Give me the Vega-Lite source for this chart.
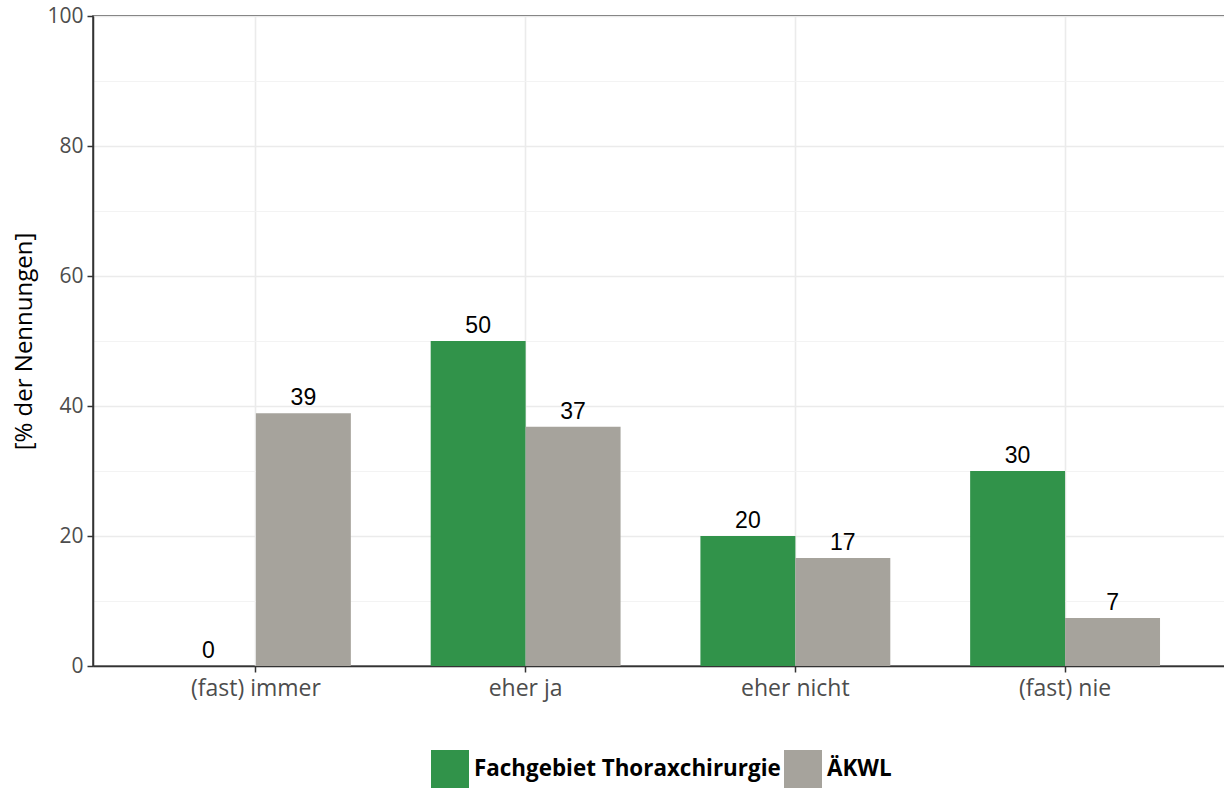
{
  "$schema": "https://vega.github.io/schema/vega-lite/v6.json",
  "width": 1135,
  "height": 650,
  "autosize": {"type": "none"},
  "padding": {"left": 93, "top": 16, "right": 0, "bottom": 123},
  "background": "white",
  "data": {
    "values": [
      {"kat": "(fast) immer", "gruppe": "Fachgebiet Thoraxchirurgie", "wert": 0},
      {"kat": "(fast) immer", "gruppe": "ÄKWL", "wert": 38.9},
      {"kat": "eher ja", "gruppe": "Fachgebiet Thoraxchirurgie", "wert": 50},
      {"kat": "eher ja", "gruppe": "ÄKWL", "wert": 36.8},
      {"kat": "eher nicht", "gruppe": "Fachgebiet Thoraxchirurgie", "wert": 20},
      {"kat": "eher nicht", "gruppe": "ÄKWL", "wert": 16.6},
      {"kat": "(fast) nie", "gruppe": "Fachgebiet Thoraxchirurgie", "wert": 30},
      {"kat": "(fast) nie", "gruppe": "ÄKWL", "wert": 7.4}
    ]
  },
  "encoding": {
    "x": {
      "field": "kat",
      "type": "nominal",
      "sort": ["(fast) immer", "eher ja", "eher nicht", "(fast) nie"],
      "scale": {"paddingInner": 0.296, "paddingOuter": 0.252},
      "axis": {
        "title": null,
        "labelAngle": 0,
        "grid": true
      }
    },
    "xOffset": {
      "field": "gruppe",
      "type": "nominal",
      "sort": ["Fachgebiet Thoraxchirurgie", "ÄKWL"],
      "scale": {"paddingInner": 0, "paddingOuter": 0}
    },
    "y": {
      "field": "wert",
      "type": "quantitative",
      "scale": {"domain": [0, 100], "nice": false, "zero": true},
      "axis": {
        "title": "[% der Nennungen]",
        "values": [0, 10, 20, 30, 40, 50, 60, 70, 80, 90, 100],
        "labelExpr": "datum.value % 20 === 0 ? datum.label : ''",
        "tickColor": {"condition": {"test": "datum.value % 20 === 0", "value": "#333333"}, "value": "transparent"},
        "grid": true,
        "gridColor": {"condition": {"test": "datum.value % 20 === 0", "value": "#ebebeb"}, "value": "#f2f2f2"},
        "gridWidth": {"condition": {"test": "datum.value % 20 === 0", "value": 1.6}, "value": 0.9}
      }
    }
  },
  "layer": [
    {
      "mark": {"type": "bar"},
      "encoding": {
        "color": {
          "field": "gruppe",
          "type": "nominal",
          "sort": ["Fachgebiet Thoraxchirurgie", "ÄKWL"],
          "scale": {"domain": ["Fachgebiet Thoraxchirurgie", "ÄKWL"], "range": ["#31934a", "#a6a39c"]},
          "legend": {
            "title": null,
            "orient": "none",
            "direction": "horizontal",
            "legendX": 338,
            "legendY": 734,
            "symbolType": "square",
            "symbolSize": 1444,
            "symbolStrokeWidth": 0,
            "symbolOpacity": 1,
            "labelFont": "Open Sans",
            "labelFontSize": 22.4,
            "labelFontWeight": "bold",
            "labelColor": "#000000",
            "labelOffset": 5,
            "columnPadding": 3,
            "labelLimit": 400
          }
        }
      }
    },
    {
      "mark": {
        "type": "text",
        "baseline": "alphabetic",
        "dy": -8,
        "font": "Liberation Sans",
        "fontSize": 23,
        "color": "#000000"
      },
      "encoding": {
        "text": {"field": "wert", "type": "quantitative", "format": ".0f"}
      }
    }
  ],
  "config": {
    "view": {"stroke": "#333333", "strokeWidth": 1.5},
    "axis": {
      "labelFont": "Open Sans",
      "labelColor": "#4d4d4d",
      "domainColor": "#333333",
      "domainWidth": 1.5,
      "tickSize": 6,
      "tickWidth": 1.5,
      "titleFont": "Open Sans",
      "titleFontWeight": "normal",
      "titleColor": "#000000"
    },
    "axisX": {
      "labelFontSize": 23,
      "labelPadding": 5,
      "tickColor": "#333333",
      "gridColor": "#ebebeb",
      "gridWidth": 1.6
    },
    "axisY": {
      "labelFontSize": 21,
      "labelPadding": 4,
      "titleFontSize": 24,
      "titlePadding": 10
    }
  }
}
